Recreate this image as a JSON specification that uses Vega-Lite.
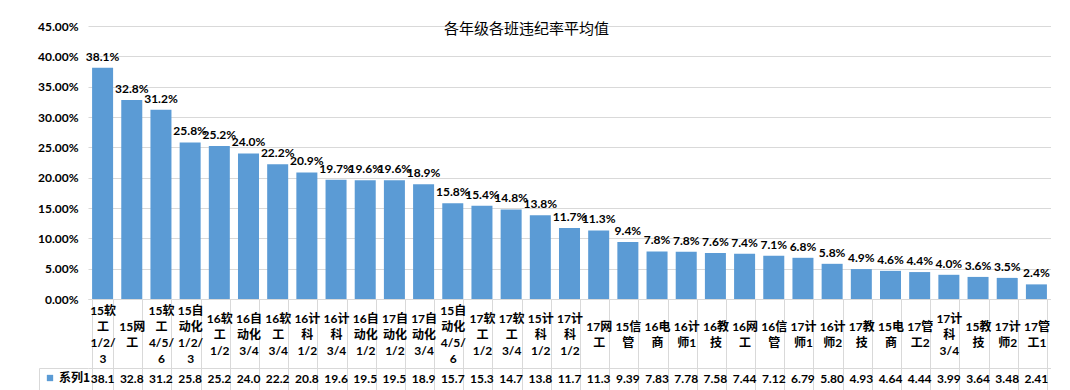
{
  "$schema": "https://vega.github.io/schema/vega-lite/v6.json",
  "padding": {"left": 37, "top": 20, "right": 0, "bottom": 0},
  "background": "white",
  "title": {"text": "各年级各班违纪率平均值", "anchor": "start", "frame": "group", "dx": 356, "offset": -17, "fontSize": 15, "fontWeight": "normal", "font": "Noto Sans CJK SC", "color": "#000000"},
  "datasets": {
    "rates": [
      {"class": "15软工1/2/3", "rate": 0.381, "table": "38.1", "series": "系列1"},
      {"class": "15网工", "rate": 0.328, "table": "32.8", "series": "系列1"},
      {"class": "15软工4/5/6", "rate": 0.312, "table": "31.2", "series": "系列1"},
      {"class": "15自动化1/2/3", "rate": 0.258, "table": "25.8", "series": "系列1"},
      {"class": "16软工1/2", "rate": 0.252, "table": "25.2", "series": "系列1"},
      {"class": "16自动化3/4", "rate": 0.240, "table": "24.0", "series": "系列1"},
      {"class": "16软工3/4", "rate": 0.222, "table": "22.2", "series": "系列1"},
      {"class": "16计科1/2", "rate": 0.2086, "table": "20.8", "series": "系列1"},
      {"class": "16计科3/4", "rate": 0.1967, "table": "19.6", "series": "系列1"},
      {"class": "16自动化1/2", "rate": 0.1957, "table": "19.5", "series": "系列1"},
      {"class": "17自动化1/2", "rate": 0.1957, "table": "19.5", "series": "系列1"},
      {"class": "17自动化3/4", "rate": 0.189, "table": "18.9", "series": "系列1"},
      {"class": "15自动化4/5/6", "rate": 0.1577, "table": "15.7", "series": "系列1"},
      {"class": "17软工1/2", "rate": 0.1537, "table": "15.3", "series": "系列1"},
      {"class": "17软工3/4", "rate": 0.1477, "table": "14.7", "series": "系列1"},
      {"class": "15计科1/2", "rate": 0.138, "table": "13.8", "series": "系列1"},
      {"class": "17计科1/2", "rate": 0.117, "table": "11.7", "series": "系列1"},
      {"class": "17网工", "rate": 0.113, "table": "11.3", "series": "系列1"},
      {"class": "15信管", "rate": 0.0939, "table": "9.39", "series": "系列1"},
      {"class": "16电商", "rate": 0.0783, "table": "7.83", "series": "系列1"},
      {"class": "16计师1", "rate": 0.0778, "table": "7.78", "series": "系列1"},
      {"class": "16教技", "rate": 0.0758, "table": "7.58", "series": "系列1"},
      {"class": "16网工", "rate": 0.0744, "table": "7.44", "series": "系列1"},
      {"class": "16信管", "rate": 0.0712, "table": "7.12", "series": "系列1"},
      {"class": "17计师1", "rate": 0.0679, "table": "6.79", "series": "系列1"},
      {"class": "16计师2", "rate": 0.058, "table": "5.80", "series": "系列1"},
      {"class": "17教技", "rate": 0.0493, "table": "4.93", "series": "系列1"},
      {"class": "15电商", "rate": 0.0464, "table": "4.64", "series": "系列1"},
      {"class": "17管工2", "rate": 0.0444, "table": "4.44", "series": "系列1"},
      {"class": "17计科3/4", "rate": 0.0399, "table": "3.99", "series": "系列1"},
      {"class": "15教技", "rate": 0.0364, "table": "3.64", "series": "系列1"},
      {"class": "17计师2", "rate": 0.0348, "table": "3.48", "series": "系列1"},
      {"class": "17管工1", "rate": 0.0241, "table": "2.41", "series": "系列1"}
    ]
  },
  "bounds": "flush",
  "spacing": 69,
  "vconcat": [
    {
      "width": 963,
      "height": 273,
      "data": {"name": "rates"},
      "encoding": {
        "x": {
          "field": "class", "type": "nominal", "sort": null,
          "scale": {"type": "band", "paddingInner": 0.28, "paddingOuter": 0.14},
          "axis": {
            "title": null, "labelAngle": 0, "labelAlign": "center", "labelBaseline": "middle",
            "labelExpr": "indexof(datum.label,'/') < 0 ? ['\u200b', '\u200b', substring(datum.label,0,3), '\u200b', substring(datum.label,3)] : (length(datum.label) - indexof(datum.label,'/') + 1 > 3 ? [substring(datum.label,0,3), '\u200b', substring(datum.label,3,indexof(datum.label,'/')-1), '\u200b', substring(datum.label,indexof(datum.label,'/')-1,indexof(datum.label,'/')+3), '\u200b', substring(datum.label,indexof(datum.label,'/')+3)] : ['\u200b', substring(datum.label,0,3), '\u200b', substring(datum.label,3,indexof(datum.label,'/')-1), '\u200b', substring(datum.label,indexof(datum.label,'/')-1)])",
            "labelLineHeight": 8, "labelPadding": -58, "labelFontSize": 12, "labelFontWeight": "bold",
            "labelFont": "Lato, Noto Sans CJK SC", "labelColor": "#000000", "labelOverlap": false, "labelLimit": 0, "labelFlush": false,
            "tickBand": "extent", "tickSize": 69, "tickColor": "#D9D9D9", "domainColor": "#D9D9D9", "grid": false
          }
        },
        "y": {
          "field": "rate", "type": "quantitative",
          "scale": {"domain": [0, 0.45], "nice": false, "zero": true},
          "axis": {"title": null, "format": ".2%", "values": [0, 0.05, 0.1, 0.15, 0.2, 0.25, 0.3, 0.35, 0.4, 0.45], "labelOverlap": false, "labelFlush": false, "labelBound": false, "domain": false, "ticks": false, "gridColor": "#D9D9D9", "labelPadding": 10, "labelFontSize": 12, "labelFont": "Lato", "labelFontWeight": "bold", "labelColor": "#000000"}
        }
      },
      "layer": [
        {
          "mark": {"type": "bar"},
          "encoding": {
            "color": {
              "field": "series", "type": "nominal",
              "scale": {"range": ["#5B9BD5"]},
              "legend": {"orient": "none", "legendX": -44, "legendY": 346, "title": null, "symbolType": "square", "symbolSize": 40, "symbolStrokeWidth": 0, "labelFontSize": 12, "labelFontWeight": "bold", "labelFont": "Noto Sans CJK SC", "labelColor": "#000000", "padding": 0, "labelOffset": 3}
            }
          }
        },
        {
          "mark": {"type": "text", "baseline": "bottom", "dy": -4, "fontSize": 12, "fontWeight": "bold", "font": "Lato", "color": "#000000"},
          "encoding": {
            "text": {"field": "rate", "type": "quantitative", "format": ".1%"}
          }
        }
      ]
    },
    {
      "width": 963,
      "height": 22,
      "data": {"name": "rates"},
      "mark": {"type": "text", "fontSize": 12, "fontWeight": "bold", "font": "Lato", "color": "#000000"},
      "encoding": {
        "x": {
          "field": "class", "type": "nominal", "sort": null,
          "scale": {"type": "band", "paddingInner": 0.28, "paddingOuter": 0.14},
          "axis": {"orient": "top", "title": null, "labels": false, "ticks": false, "grid": true, "tickBand": "extent", "gridColor": "#D9D9D9", "domainColor": "#D9D9D9"}
        },
        "y": {
          "field": "series", "type": "nominal",
          "scale": {"type": "band", "paddingInner": 0, "paddingOuter": 0},
          "axis": {"title": null, "labels": false, "offset": 49, "tickSize": -49, "tickBand": "extent", "tickColor": "#D9D9D9", "domainColor": "#D9D9D9"}
        },
        "text": {"field": "table", "type": "nominal"}
      }
    }
  ],
  "config": {
    "view": {"stroke": null}
  }
}
